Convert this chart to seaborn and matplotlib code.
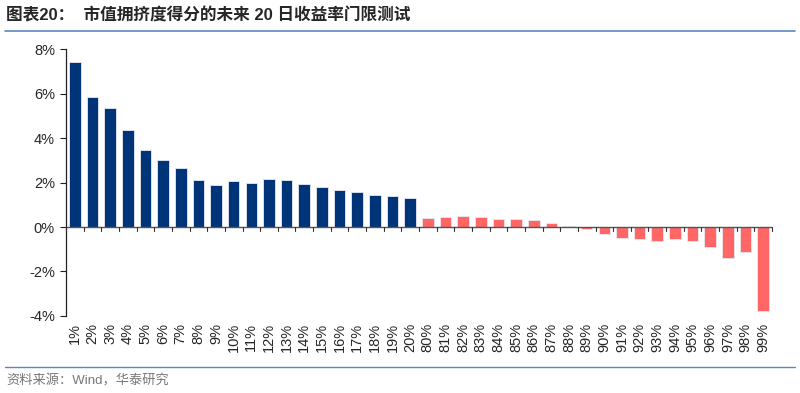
import matplotlib
matplotlib.use("Agg")
import matplotlib.pyplot as plt
import seaborn as sns
import pandas as pd
from matplotlib.lines import Line2D
from matplotlib.ticker import FuncFormatter

# data (future 20-day return, %)
low_labels = [f"{i}%" for i in range(1, 21)]
low_values = [7.43, 5.86, 5.33, 4.37, 3.48, 3.03, 2.67, 2.13, 1.91, 2.09,
              1.97, 2.15, 2.12, 1.92, 1.82, 1.68, 1.59, 1.43, 1.40, 1.29]
high_labels = [f"{i}%" for i in range(80, 100)]
high_values = [0.41, 0.44, 0.48, 0.44, 0.38, 0.35, 0.30, 0.18, 0.03, -0.09,
               -0.30, -0.48, -0.56, -0.63, -0.54, -0.65, -0.90, -1.38, -1.14, -3.77]

df = pd.DataFrame({
    "threshold": low_labels + high_labels,
    "ret": low_values + high_values,
    "group": ["low"] * len(low_labels) + ["high"] * len(high_labels),
})

sns.set_style("white")
plt.rcParams["font.family"] = ["Liberation Sans", "Noto Sans CJK SC", "DejaVu Sans"]

fig = plt.figure(figsize=(8, 3.93), dpi=100)
ax = fig.add_axes([0.0825, 0.196, 0.8825, 0.679])

sns.barplot(data=df, x="threshold", y="ret", hue="group", dodge=False,
            palette={"low": "#003478", "high": "#FF6666"}, saturation=1,
            width=0.66, edgecolor="#e8e8f0", linewidth=0.6, legend=False, ax=ax)

ax.set_xlim(-0.5, len(df) - 0.5)
ax.set_ylim(-4, 8)
ax.set_yticks([-4, -2, 0, 2, 4, 6, 8])
ax.yaxis.set_major_formatter(FuncFormatter(lambda v, p: f"{v:.0f}%"))
ax.set_xlabel("")
ax.set_ylabel("")

# x axis drawn at zero
ax.axhline(0, color="#555555", lw=1.0, zorder=3)
for s in ["top", "right", "bottom"]:
    ax.spines[s].set_visible(False)
ax.spines["left"].set_color("#222222")
ax.spines["left"].set_linewidth(0.9)

ax.tick_params(axis="y", which="major", direction="out", length=4, width=0.8,
               color="#222222", labelsize=10.5, pad=4, left=True)
ax.tick_params(axis="x", which="major", length=0, labelsize=10.5, rotation=90, pad=5)

# boundary ticks hanging down from the zero line
for i in range(len(df) + 1):
    ax.plot([i - 0.5, i - 0.5], [0, -0.18], color="#333333", lw=0.8,
            clip_on=False, zorder=3)

# title and source
fig.text(0.008, 0.962, "图表20：  市值拥挤度得分的未来 20 日收益率门限测试",
         fontsize=12, fontweight="bold", va="center", ha="left",
         family=["Liberation Sans", "Noto Sans CJK SC"])
fig.add_artist(Line2D([0.006, 0.994], [0.922, 0.922], color="#5b86c5", lw=1.2))
fig.add_artist(Line2D([0.006, 0.994], [0.066, 0.066], color="#5b86c5", lw=1.0))
fig.text(0.008, 0.030, "资料来源：Wind，华泰研究", fontsize=9.5, color="#777777",
         va="center", ha="left", family=["Liberation Sans", "Noto Sans CJK SC"])

fig.savefig("out.png", dpi=100)
